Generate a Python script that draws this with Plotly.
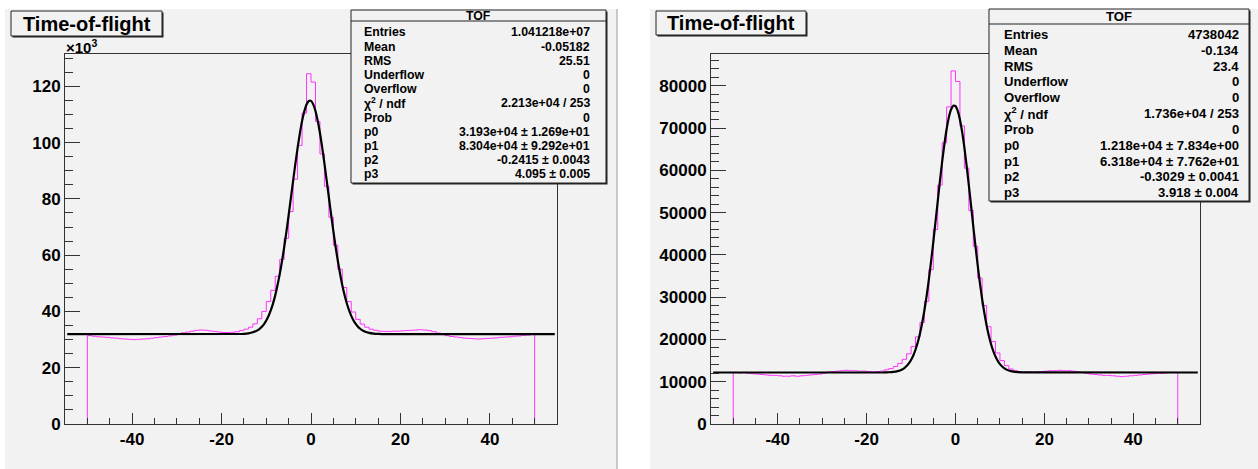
import plotly.graph_objects as go

# ---------------- data ----------------
BIN_LOW = -50
BIN_WIDTH = 1
N_BINS = 100

# left panel histogram, counts in thousands per 1-unit bin (-50..50)
tof_left_k = [
    31.4, 31.2, 31.0, 30.9, 30.8, 30.6, 30.5, 30.3, 30.2, 30.1,
    30.0, 30.1, 30.2, 30.3, 30.5, 30.7, 30.9, 31.1, 31.3, 31.6,
    32.0, 32.4, 32.7, 33.0, 33.3, 33.4, 33.3, 33.1, 32.9, 32.7,
    32.5, 32.5, 32.6, 32.8, 33.2, 33.7, 34.4, 35.6, 37.4, 40.0,
    43.5, 47.5, 52.5, 58.5, 66.0, 75.5, 87.0, 99.0, 110.5, 124.5,
    121.5, 107.5, 96.0, 84.5, 73.5, 63.5, 55.0, 48.5, 43.5, 39.8,
    37.2, 35.5, 34.4, 33.7, 33.3, 33.0, 32.9, 32.9, 33.0, 33.0,
    33.1, 33.2, 33.3, 33.4, 33.5, 33.4, 33.2, 32.8, 32.3, 31.8,
    31.4, 31.1, 30.9, 30.7, 30.5, 30.4, 30.3, 30.2, 30.3, 30.4,
    30.5, 30.6, 30.8, 30.9, 31.0, 31.2, 31.3, 31.5, 31.6, 31.8,
]

# right panel histogram, counts in thousands per 1-unit bin (-50..50)
tof_right_k = [
    12.2, 12.1, 12.2, 12.0, 11.9, 11.8, 11.7, 11.6, 11.5, 11.5,
    11.4, 11.3, 11.3, 11.4, 11.3, 11.4, 11.5, 11.6, 11.7, 11.8,
    12.0, 12.3, 12.4, 12.5, 12.6, 12.7, 12.6, 12.6, 12.5, 12.5,
    12.4, 12.3, 12.4, 12.5, 12.8, 13.1, 13.6, 14.3, 15.3, 16.6,
    18.3, 20.6, 24.0, 29.0, 36.5, 46.0, 56.5, 66.5, 75.0, 83.5,
    81.0, 70.5, 60.5, 50.5, 42.0, 34.5, 28.0, 23.0, 19.5, 16.8,
    15.0, 13.8, 13.0, 12.6, 12.4, 12.3, 12.3, 12.2, 12.3, 12.4,
    12.5, 12.6, 12.6, 12.7, 12.6, 12.6, 12.5, 12.4, 12.2, 12.0,
    11.8, 11.7, 11.6, 11.5, 11.5, 11.4, 11.3, 11.2, 11.3, 11.4,
    11.5, 11.6, 11.7, 11.8, 11.9, 12.0, 12.0, 12.1, 12.2, 12.2,
]

fit_left_x = [-54.5, -16, -15, -14, -13, -12, -11.5, -11, -10.5, -10, -9.5, -9, -8.5, -8,
              -7.5, -7, -6.5, -6, -5.5, -5, -4.5, -4, -3.5, -3, -2.5, -2, -1.5, -1,
              -0.5, 0, 0.5, 1, 1.5, 2, 2.5, 3, 3.5, 4, 4.5, 5, 5.5, 6, 6.5, 7, 7.5, 8,
              8.5, 9, 9.5, 10, 10.5, 11, 11.5, 12, 13, 14, 15, 16, 54.5]
fit_left_k = [31.93, 31.98, 32.06, 32.22, 32.58, 33.27, 33.83, 34.56, 35.53, 36.78, 38.37,
              40.36, 42.79, 45.72, 49.2, 53.19, 57.7, 62.8, 68.3, 74.19, 80.3, 86.41, 92.4,
              98.1, 103.2, 107.65, 111.1, 113.55, 114.8, 114.83, 113.6, 111.25, 107.8,
              103.43, 98.3, 92.65, 86.65, 80.5, 74.4, 68.55, 63.0, 57.94, 53.4, 49.33,
              45.85, 42.9, 40.44, 38.44, 36.84, 35.57, 34.6, 33.85, 33.29, 32.88, 32.38,
              32.13, 32.01, 31.96, 31.93]

fit_right_x = [-54.5, -16, -15, -14, -13, -12, -11.5, -11, -10.5, -10, -9.5, -9, -8.5, -8,
               -7.5, -7, -6.5, -6, -5.5, -5, -4.5, -4, -3.5, -3, -2.5, -2, -1.5, -1,
               -0.5, 0, 0.5, 1, 1.5, 2, 2.5, 3, 3.5, 4, 4.5, 5, 5.5, 6, 6.5, 7, 7.5, 8,
               8.5, 9, 9.5, 10, 10.5, 11, 11.5, 12, 13, 14, 15, 16, 54.5]
fit_right_k = [12.18, 12.19, 12.24, 12.32, 12.51, 12.91, 13.24, 13.70, 14.32, 15.14, 16.20,
               17.56, 19.26, 21.35, 23.87, 26.84, 30.26, 34.13, 38.39, 42.97, 47.78, 52.66,
               57.47, 62.03, 66.17, 69.70, 72.48, 74.37, 75.28, 75.17, 74.05, 71.96, 69.01,
               65.34, 61.09, 56.46, 51.63, 46.75, 41.98, 37.46, 33.28, 29.50, 26.17, 23.30,
               20.87, 18.87, 17.24, 15.95, 14.94, 14.17, 13.59, 13.17, 12.86, 12.64, 12.38,
               12.26, 12.21, 12.19, 12.18]

stat_labels = ["Entries", "Mean", "RMS", "Underflow", "Overflow", "χ<sup>2</sup> / ndf",
               "Prob", "p0", "p1", "p2", "p3"]
stats_left = ["1.041218e+07", "-0.05182", "25.51", "0", "0", "2.213e+04 / 253", "0",
              "3.193e+04 ± 1.269e+01", "8.304e+04 ± 9.292e+01", "-0.2415 ± 0.0043",
              "4.095 ± 0.005"]
stats_right = ["4738042", "-0.134", "23.4", "0", "0", "1.736e+04 / 253", "0",
               "1.218e+04 ± 7.834e+00", "6.318e+04 ± 7.762e+01", "-0.3029 ± 0.0041",
               "3.918 ± 0.004"]

x_ticks = [-40, -20, 0, 20, 40]
x_ticktext = ["-40", "-20", "0", "20", "40"]
yl_ticks = [0, 20000, 40000, 60000, 80000, 100000, 120000]
yl_ticktext = ["0", "20", "40", "60", "80", "100", "120"]
yr_ticks = [0, 10000, 20000, 30000, 40000, 50000, 60000, 70000, 80000]
yr_ticktext = ["0", "10000", "20000", "30000", "40000", "50000", "60000", "70000", "80000"]

TITLE = "Time-of-flight"
STATS_TITLE = "TOF"

# ---------------- figure ----------------
W, H = 1258, 469
FONT = "Liberation Sans, Arial, Helvetica, sans-serif"
PAD_BG = "#f2f2f2"
MAGENTA = "#ff33ff"


def px(x):
    return x / W


def py(y):
    return 1 - y / H


def step_xy(vals_k):
    edges = [BIN_LOW + i * BIN_WIDTH for i in range(N_BINS + 1)]
    xs = [edges[0]] + edges[:-1] + [edges[-1], edges[-1]]
    ys = [0] + [v * 1000 for v in vals_k] + [vals_k[-1] * 1000, 0]
    return xs, ys


fig = go.Figure()

for vals, fx, fy, xa, ya in [(tof_left_k, fit_left_x, fit_left_k, "x", "y"),
                             (tof_right_k, fit_right_x, fit_right_k, "x2", "y2")]:
    sx, sy = step_xy(vals)
    fig.add_trace(go.Scatter(x=sx, y=sy, mode="lines", line=dict(color=MAGENTA, width=1, shape="hv"),
                             xaxis=xa, yaxis=ya, showlegend=False, hoverinfo="skip"))
    fig.add_trace(go.Scatter(x=fx, y=[v * 1000 for v in fy], mode="lines",
                             line=dict(color="black", width=2.2, shape="spline", smoothing=0.6),
                             xaxis=xa, yaxis=ya, showlegend=False, hoverinfo="skip"))

tickfont = dict(family=FONT, size=17, color="black", weight="bold")
xcommon = dict(range=[-55, 55], tickmode="array", tickvals=x_ticks, ticktext=x_ticktext,
               ticks="inside", ticklen=11, tickwidth=1, tickcolor="#333",
               minor=dict(dtick=5, tick0=0, ticks="inside", ticklen=6, tickcolor="#333", tickwidth=1),
               showline=True, mirror=True, linecolor="#333", linewidth=1, automargin=False,
               showgrid=False, zeroline=False, tickfont=tickfont, fixedrange=True)
ycommon = dict(ticks="inside", ticklen=15, tickwidth=1, tickcolor="#333",
               showline=True, mirror=True, linecolor="#333", linewidth=1, automargin=False,
               showgrid=False, zeroline=False, tickfont=tickfont, fixedrange=True,
               tickmode="array")

ydom = [py(424), py(54)]
fig.update_layout(
    template="none",
    width=W, height=H, autosize=False,
    margin=dict(l=0, r=0, t=0, b=0, pad=0),
    paper_bgcolor="white", plot_bgcolor=PAD_BG,
    xaxis=dict(domain=[px(65), px(557)], anchor="y", **xcommon),
    yaxis=dict(domain=ydom, anchor="x", range=[0, 131500], tickvals=yl_ticks, ticktext=yl_ticktext,
               minor=dict(dtick=5000, tick0=0, ticks="inside", ticklen=8, tickcolor="#333", tickwidth=1),
               **ycommon),
    xaxis2=dict(domain=[px(711), px(1200)], anchor="y2", **xcommon),
    yaxis2=dict(domain=ydom, anchor="x2", range=[0, 87500], tickvals=yr_ticks, ticktext=yr_ticktext,
                minor=dict(dtick=2000, tick0=0, ticks="inside", ticklen=8, tickcolor="#333", tickwidth=1),
                **ycommon),
)

shapes = []
annotations = []

# pad backgrounds
for x0, x1 in [(5, 617), (650, 1258)]:
    shapes.append(dict(type="rect", xref="paper", yref="paper", x0=px(x0), x1=px(x1), y0=0, y1=py(9),
                       fillcolor=PAD_BG, line=dict(width=0), layer="below"))
shapes.append(dict(type="line", xref="paper", yref="paper", x0=px(617), x1=px(617), y0=0, y1=py(9),
                   line=dict(color="#9a9a9a", width=1)))


def box(x0, y0, x1, y1, shadow=1.5):
    shapes.append(dict(type="rect", xref="paper", yref="paper",
                       x0=px(x0 + shadow), x1=px(x1 + shadow), y0=py(y1 + shadow), y1=py(y0 + shadow),
                       fillcolor="#222", line=dict(width=0)))
    shapes.append(dict(type="rect", xref="paper", yref="paper",
                       x0=px(x0), x1=px(x1), y0=py(y1), y1=py(y0),
                       fillcolor=PAD_BG, line=dict(color="#222", width=1)))


def text(x, y, s, size, xanchor="left", bold=True):
    annotations.append(dict(xref="paper", yref="paper", x=px(x), y=py(y), text=s, showarrow=False,
                            xanchor=xanchor, yanchor="middle",
                            font=dict(family=FONT, size=size, color="black",
                                      weight="bold" if bold else "normal"),
                            borderpad=0))


# title boxes
for (bx0, by0, bx1, by1) in [(11, 11, 162, 36), (656, 11, 806, 35)]:
    box(bx0, by0, bx1, by1)
    text((bx0 + bx1) / 2, (by0 + by1) / 2 + 0.5, TITLE, 20, xanchor="center")

# x10^3 multiplier
text(65, 46, "×10<sup>3</sup>", 15)

# stats boxes
for (bx0, by0, bx1, by1, sep, tof_y, row0, row_dy, lab_x, val_x, fs, vals) in [
    (351, 10, 606, 183, 21, 15.5, 32.3, 14.2, 362.5, 590.5, 12.3, stats_left),
    (989, 9, 1249, 201, 24, 16.7, 34.3, 15.85, 1002.5, 1239.5, 13.1, stats_right),
]:
    box(bx0, by0, bx1, by1)
    shapes.append(dict(type="line", xref="paper", yref="paper", x0=px(bx0), x1=px(bx1),
                       y0=py(sep), y1=py(sep), line=dict(color="#222", width=1)))
    text((bx0 + bx1) / 2, tof_y, STATS_TITLE, fs, xanchor="center")
    for i, (lab, val) in enumerate(zip(stat_labels, vals)):
        yy = row0 + i * row_dy
        text(lab_x, yy, lab, fs)
        text(val_x, yy, val, fs, xanchor="right")

fig.update_layout(shapes=shapes, annotations=annotations)
fig.write_html(
    "out.html",
    config={"responsive": False, "displayModeBar": False, "staticPlot": True},
    post_script="document.body.style.margin='0px';",
)
